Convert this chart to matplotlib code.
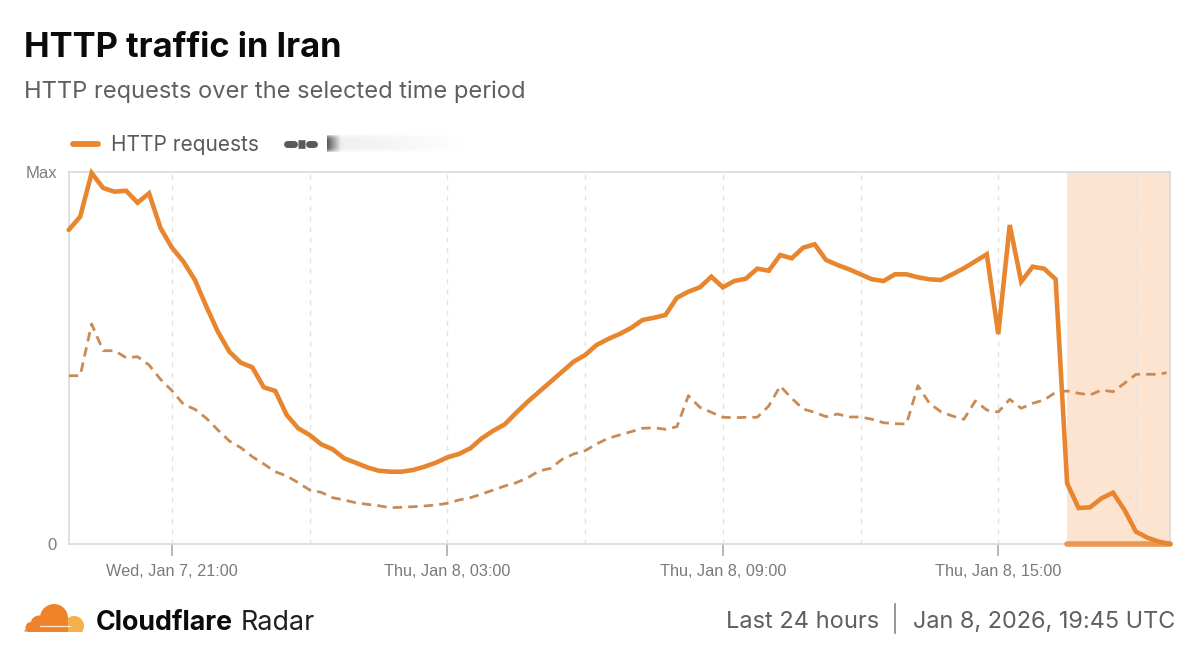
import numpy as np
import pandas as pd
import matplotlib
matplotlib.use("Agg")
import matplotlib.pyplot as plt
from matplotlib.patches import Circle, Rectangle, Polygon

# ---- data (relative units; axis runs 0..Max) ----
start_time = "2026-01-07 18:45"
step = "15min"
http_requests = [314, 327.3, 371, 356, 352.3, 353.3, 341.3, 350.7, 316, 296.3, 282.3, 264, 237.3, 212.3, 192.3, 181.3,
                 176.7, 156.7, 153, 129, 115.7, 109, 99.7, 94.7, 85.7, 81.3, 76.7, 73.3, 72.3, 72.3, 74, 77.3,
                 81.3, 86.7, 90, 95.7, 105.7, 113.3, 119.7, 131.3, 142.3, 152.3, 162.3, 172.3, 182.3, 189, 199, 205,
                 210, 216, 224, 226.3, 229, 246.3, 252.3, 256.7, 267.3, 256.7, 263, 265.3, 275.3, 273.3, 289, 285.7,
                 296.3, 299.7, 284, 279, 274.7, 269.7, 264.7, 263, 269.7, 269.7, 266.7, 264.7, 264, 269.7, 275.7, 282.7,
                 289.7, 210, 319, 262.3, 277.3, 275.3, 264.7, 60.7, 36, 36.7, 45.7, 51.3, 34, 12.3, 6.3, 2.3, 0]
redacted_series = [168.3, 168.3, 220, 193.3, 193.3, 186.3, 187.3, 179, 164.7, 153.3, 139.7, 134.7, 125.7, 114, 103, 96.3,
                   87.3, 80, 72.3, 68, 61.3, 54, 51.7, 46.3, 44, 41.3, 39.7, 38.3, 36.3, 36.7, 37.3, 38,
                   39, 40.7, 44, 46.3, 50, 54, 58, 61.3, 66.3, 73, 75.7, 84.7, 90, 93.3, 100, 105.7,
                   109, 112.3, 115.7, 116.3, 114.7, 117.3, 148.3, 136.7, 131.7, 126.7, 126.3, 126.7, 126.7, 138, 158, 145.7,
                   135, 131.7, 127.3, 130, 127, 127, 124.7, 121.3, 120.3, 120, 158.3, 140.7, 132.3, 128, 124.7, 143,
                   134, 132, 144.7, 135.7, 140.7, 144, 151.7, 153, 150.7, 149, 154, 152.3, 160.7, 169.7, 169.7, 169.7, 171.3]
zero_values = [0] * 10
y_max = 372
y_ticks = [0, y_max]
y_tick_labels = ["0", "Max"]
x_tick_times = ["2026-01-07 21:00", "2026-01-08 03:00", "2026-01-08 09:00", "2026-01-08 15:00"]
x_tick_labels = ["Wed, Jan 7, 21:00", "Thu, Jan 8, 03:00", "Thu, Jan 8, 09:00", "Thu, Jan 8, 15:00"]
grid_times = ["2026-01-07 21:00", "2026-01-08 00:00", "2026-01-08 03:00", "2026-01-08 06:00",
              "2026-01-08 09:00", "2026-01-08 12:00", "2026-01-08 15:00", "2026-01-08 18:00"]
band_start = "2026-01-08 16:30"

times = pd.date_range(start_time, periods=len(http_requests), freq=step)
end_dash = pd.Timestamp(times[-1]) - pd.Timedelta(minutes=5)
dash_times = list(times[:-1]) + [end_dash]

W, H = 1200, 657
MAIN = "#E8862F"
DASH = "#C98B55"
ORANGE = "#F0822A"
plt.rcParams["font.family"] = ["Inter", "DejaVu Sans"]

fig = plt.figure(figsize=(W / 100, H / 100), dpi=100, facecolor="white")
ax = fig.add_axes([68.7 / W, 1 - 544 / H, (1170.4 - 68.7) / W, (544 - 172) / H])
ax.set_xlim(times[0], times[-1])
ax.set_ylim(0, y_max)

ax.axvspan(pd.Timestamp(band_start), times[-1], color="#FDE4D1", lw=0, zorder=0)
for t in grid_times:
    ax.axvline(pd.Timestamp(t), color="#E2E2E2", lw=1, ls=(0, (3.5, 4)), zorder=1)

ax.plot(dash_times, redacted_series, color=DASH, lw=2.0, ls=(0, (3.4, 2.2)), zorder=3)
ax.plot(times[-len(zero_values):], zero_values, color="#EA994F", lw=4.0,
        solid_capstyle="round", clip_on=False, zorder=4)
ax.plot(times, http_requests, color=MAIN, lw=3.3, solid_joinstyle="miter",
        solid_capstyle="round", clip_on=False, zorder=5)

for s in ax.spines.values():
    s.set_color("#DADADA")
    s.set_linewidth(1.2)
ax.set_xticks([pd.Timestamp(t) for t in x_tick_times])
ax.set_xticklabels(x_tick_labels, family="Liberation Sans", fontsize=11.7, color="#7A7A7A")
ax.tick_params(axis="x", length=8.5, width=1.2, color="#ABABAB", pad=6)
ax.set_yticks(y_ticks)
ax.set_yticklabels(y_tick_labels, family="Liberation Sans", fontsize=12, color="#7F7F7F")
ax.tick_params(axis="y", length=0, pad=8.5)

# overlay in image pixels for title, legend and footer
deco = fig.add_axes([0, 0, 1, 1], facecolor="none", zorder=10)
deco.set_xlim(0, W)
deco.set_ylim(H, 0)
deco.axis("off")

deco.text(24, 48, "HTTP traffic in Iran", fontsize=24.8, fontweight="bold", color="#0B0B0B", va="center")
deco.text(24, 92, "HTTP requests over the selected time period", fontsize=17, color="#5F5F5F", va="center")

deco.plot([73, 98], [144, 144], color=MAIN, lw=4.2, solid_capstyle="round")
deco.text(111, 145, "HTTP requests", fontsize=15, color="#595959", va="center")
deco.plot([287, 294], [144, 144], color="#5A5A5A", lw=5, solid_capstyle="round")
deco.plot([298, 305], [144, 144], color="#5A5A5A", lw=6.2, solid_capstyle="butt")
deco.plot([309, 314], [144, 144], color="#5A5A5A", lw=5, solid_capstyle="round")

# blurred label
blur = fig.add_axes([327 / W, 1 - 153 / H, 145 / W, 19 / H], zorder=11)
grad = np.linspace(0, 1, 145)
shade = 0.93 + 0.07 * grad
shade[:14] = np.linspace(0.35, 0.91, 14)
img = np.tile(shade, (19, 1))
vert = np.clip(np.abs(np.linspace(-1, 1, 19)) ** 4, 0, 1)[:, None]
img = img + (1 - img) * vert
blur.imshow(img, cmap="gray", vmin=0, vmax=1, aspect="auto", interpolation="bilinear")
blur.axis("off")

# logo
clip = Rectangle((0, 0), 90, 631.5, transform=deco.transData)
for (cx, cy, r, c, z) in [(74, 626, 10, "#F6B04A", 1), (54, 618, 14, ORANGE, 2),
                          (39, 624, 8.5, ORANGE, 2), (31, 627.5, 5.5, ORANGE, 2)]:
    p = Circle((cx, cy), r, color=c, lw=0, zorder=z)
    deco.add_patch(p)
    p.set_clip_path(clip)
deco.add_patch(Polygon([(24, 631.5), (31, 622), (40, 631.5)], color=ORANGE, lw=0, zorder=2))
deco.add_patch(Rectangle((30, 622), 38, 9.5, color=ORANGE, lw=0, zorder=2))
deco.plot([40, 70], [625.5, 625.5], color="#FFE9D6", lw=0.9, zorder=3)

deco.text(96, 623.5, "Cloudflare", fontsize=19.3, fontweight="bold", color="#0B0B0B", va="center")
deco.text(241, 623.5, "Radar", fontsize=19.3, color="#1F1F1F", va="center")

deco.text(726, 622, "Last 24 hours", fontsize=17, color="#5F5F5F", va="center")
deco.plot([895, 895], [604, 633], color="#7A7A7A", lw=1.1)
deco.text(1175, 622, "Jan 8, 2026, 19:45 UTC", fontsize=16.9, color="#5F5F5F", va="center", ha="right")

fig.savefig("out.png", dpi=100, facecolor="white")
